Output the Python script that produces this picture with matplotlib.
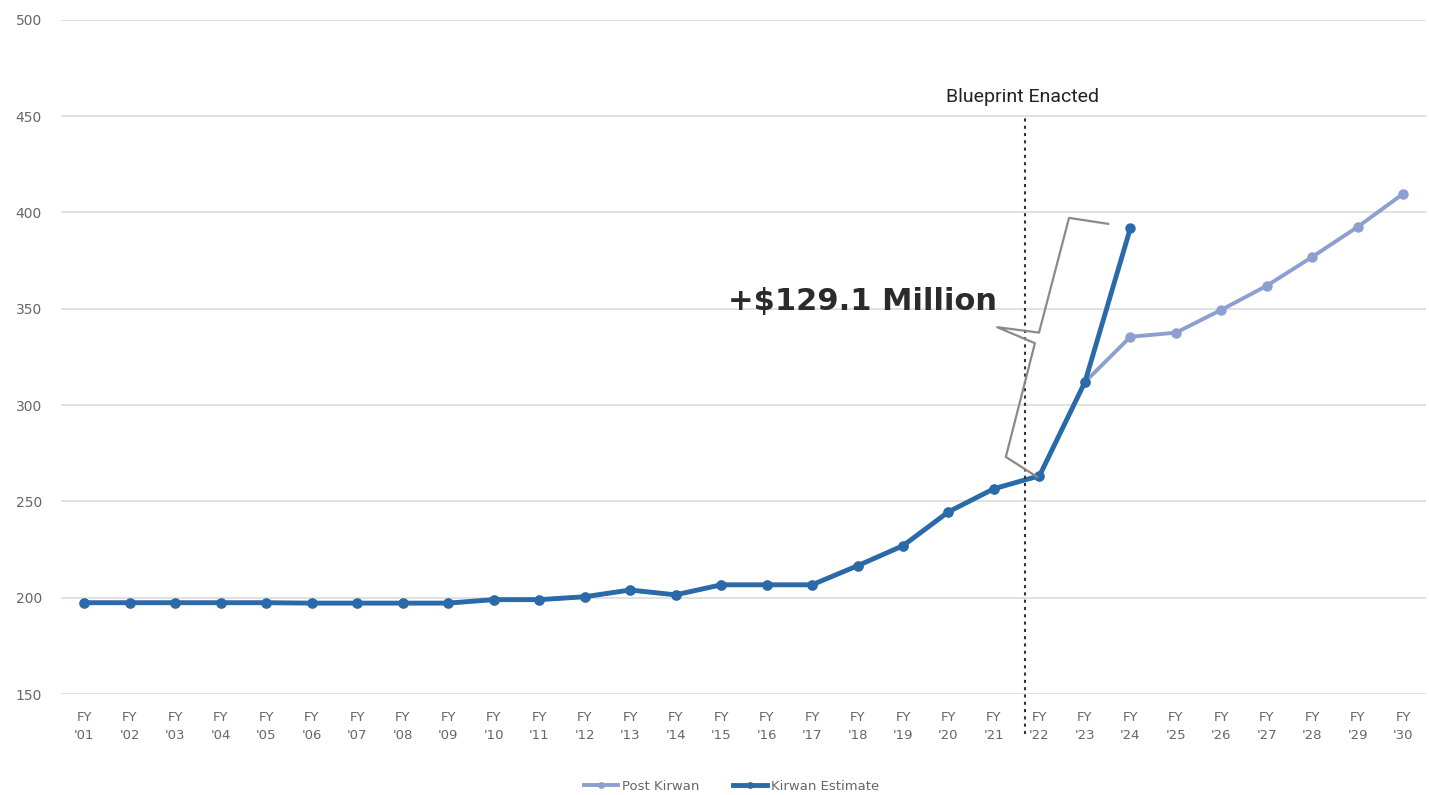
import matplotlib.pyplot as plt

years = ["'%02d" % y for y in range(1, 31)]
kirwan_estimate = [197.4, 197.4, 197.4, 197.4, 197.4, 197.2, 197.2, 197.2, 197.2, 199, 199,
                   200.5, 204, 201.5, 206.7, 206.7, 206.7, 216.6, 227, 244.6, 256.6, 263.3,
                   312, 392]
post_kirwan = kirwan_estimate[:23] + [335.5, 337.6, 349.5, 362, 377, 392.6, 409.8]
yticks = [150, 200, 250, 300, 350, 400, 450, 500]

dark = '#2a6aa8'
light = '#8c9fd0'

fig = plt.figure(figsize=(14.29, 7.95), dpi=100)
ax = fig.add_axes([0.043, 0.127, 0.955, 0.848])
x = list(range(len(years)))

ax.plot(x, post_kirwan, color=light, lw=2.8, marker='o', ms=6.5, label='Post Kirwan', zorder=3)
ax.plot(x[:len(kirwan_estimate)], kirwan_estimate, color=dark, lw=3.5, marker='o', ms=6.5,
        label='Kirwan Estimate', zorder=4)

ax.set_xlim(-0.5, 29.5)
ax.set_ylim(150, 500)
ax.set_yticks(yticks)
ax.set_xticks(x)
ax.set_xticklabels(['FY\n' + y for y in years], fontsize=9.5, color='#666666', linespacing=1.5)
ax.tick_params(axis='both', length=0, labelcolor='#666666')
ax.tick_params(axis='y', labelsize=10, pad=14)
ax.tick_params(axis='x', pad=12)
ax.grid(axis='y', color='#dcdcdc', lw=1.2)
ax.set_axisbelow(True)
for s in ax.spines.values():
    s.set_visible(False)

# blueprint line
bx = 20.68
ax.axvline(bx, color='#333333', ls=(0, (1.5, 2)), lw=1.5, ymin=-0.06, ymax=0.855, clip_on=False, zorder=5)
ax.text(bx - 0.05, 460, 'Blueprint Enacted', ha='center', va='center', fontsize=14,
        family='Roboto', color='#222222')

# bracket (curly brace)
lo, hi = kirwan_estimate[21], kirwan_estimate[23]
mid = (lo + hi) / 2 + 10
bxs = [20.95, 20.26, 20.90, 20.07, 20.99, 21.65, 22.51]
bys = [lo - 0.6, lo + 9.8, mid - 5.5, mid + 2.8, mid, hi + 5.2, hi + 2.1]
ax.plot(bxs, bys, color='#8a8a8a', lw=1.6, zorder=6)

ax.text(17.1, 354, '+$129.1 Million', ha='center', va='center', fontsize=22,
        family='DejaVu Sans', fontweight='bold', color='#2b2b2b')

fig.legend(loc='lower center', bbox_to_anchor=(0.512, -0.012), ncol=2, frameon=False,
           fontsize=9.5, labelcolor='#666666', handlelength=2.6, columnspacing=2.5,
           handletextpad=0.3, markerscale=0.6)

fig.savefig('out.png', dpi=100)
